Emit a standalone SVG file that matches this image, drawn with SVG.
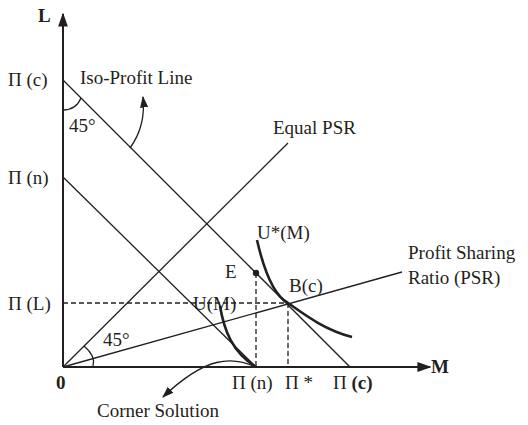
<svg xmlns="http://www.w3.org/2000/svg" width="528" height="425" viewBox="0 0 528 425">
<defs>
<style>
text{font-family:"Liberation Serif","Times New Roman",serif;font-size:19px;fill:#231f20}
.b{font-weight:bold}
.ax{stroke:#231f20;stroke-width:2;fill:none}
.ln{stroke:#231f20;stroke-width:1.3;fill:none}
.ds{stroke:#231f20;stroke-width:1.3;fill:none;stroke-dasharray:5 3}
.cv{stroke:#231f20;stroke-width:2.6;fill:none}
</style>
<marker id="ah" viewBox="0 0 10 10" refX="9" refY="5" markerWidth="7" markerHeight="7" orient="auto" markerUnits="strokeWidth">
<path d="M0,1.5 L10,5 L0,8.5 Z" fill="#231f20"/>
</marker>
<marker id="ah2" viewBox="0 0 10 10" refX="9" refY="5" markerWidth="9" markerHeight="9" orient="auto" markerUnits="strokeWidth">
<path d="M0,1.5 L10,5 L0,8.5 Z" fill="#231f20"/>
</marker>
</defs>
<g id="connectors">
<line class="ax" x1="63" y1="367" x2="63" y2="14" marker-end="url(#ah)"/>
<line class="ax" x1="63" y1="367" x2="430" y2="367" marker-end="url(#ah)"/>
<line class="ln" x1="63" y1="80" x2="350" y2="367"/>
<line class="ln" x1="63" y1="177" x2="256" y2="367"/>
<line class="ln" x1="63" y1="367" x2="288" y2="143"/>
<line class="ln" x1="63" y1="367" x2="402" y2="272"/>
<line class="ds" x1="63" y1="303" x2="288" y2="303"/>
<line class="ds" x1="288" y1="303" x2="288" y2="367"/>
<line class="ds" x1="256" y1="273" x2="256" y2="367"/>
<path class="ln" d="M63,110 Q76,110 81,98"/>
<path class="ln" d="M84,346 Q96,356 93,366"/>
<path class="ln" d="M130,148 Q146,126 143,97" marker-end="url(#ah2)"/>
<path class="ln" d="M256,367 C232,356 206,356 163,397" marker-end="url(#ah2)"/>
<path class="cv" d="M257,240 C265,275 275,296 288,303 C305,315 325,330 352,337"/>
<path class="cv" d="M220,306 C224,330 232,352 256,367"/>
<circle cx="256" cy="273" r="3.2" fill="#231f20"/>
</g>
<g id="labels">
<text class="b" x="38" y="22">L</text>
<text class="b" x="431" y="373">M</text>
<text class="b" x="56" y="389">0</text>
<text x="8" y="86">Π (c)</text>
<text x="8" y="184">Π (n)</text>
<text x="8" y="310">Π (L)</text>
<text x="80" y="84">Iso-Profit Line</text>
<text x="69" y="132">45°</text>
<text x="103" y="346">45°</text>
<text x="273" y="134">Equal PSR</text>
<text x="408" y="259">Profit Sharing</text>
<text x="408" y="284">Ratio (PSR)</text>
<text x="257" y="239">U*(M)</text>
<text x="225" y="278">E</text>
<text x="289" y="292">B(c)</text>
<text x="193" y="310">U(M)</text>
<text x="232" y="389">Π (n)</text>
<text x="285" y="389">Π *</text>
<text x="333" y="389">Π <tspan class="b">(c)</tspan></text>
<text x="97" y="417">Corner Solution</text>
</g>
</svg>
